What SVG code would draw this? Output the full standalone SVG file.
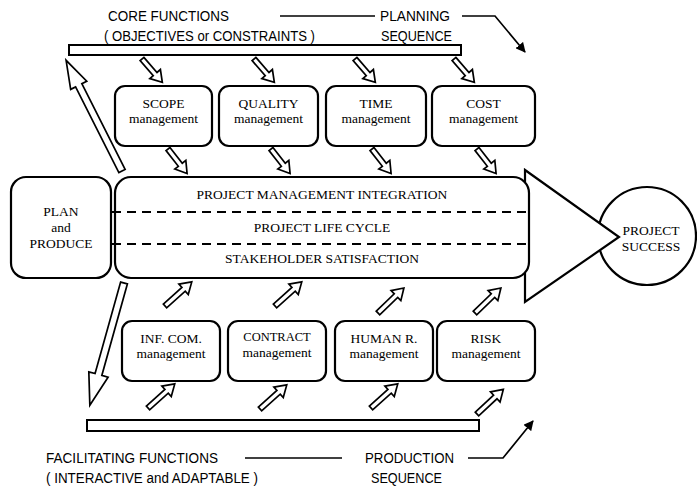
<svg xmlns="http://www.w3.org/2000/svg" width="697" height="488" viewBox="0 0 697 488">
<style>
.box{fill:#fff;stroke:#000;stroke-width:2.2}
.bar{fill:#fff;stroke:#000;stroke-width:2}
.ha{fill:#fff;stroke:#000;stroke-width:1.7;stroke-linejoin:miter}
.ln{fill:none;stroke:#000;stroke-width:1.7}
.dash{fill:none;stroke:#000;stroke-width:2;stroke-dasharray:9 6}
.s{font-family:"Liberation Sans",Arial,sans-serif;font-size:14px;fill:#000}
.t{font-family:"Liberation Serif","Times New Roman",serif;font-size:13.5px;fill:#000;text-anchor:middle}
</style>
<defs>
<path id="a31" d="M0,-2.5 H20 V-7 L31,0 L20,7 V2.5 H0 Z"/>
<path id="a36" d="M0,-2.5 H25 V-7 L36,0 L25,7 V2.5 H0 Z"/>
<marker id="ah" viewBox="0 0 10 10" refX="9" refY="5" markerWidth="10" markerHeight="10" markerUnits="userSpaceOnUse" orient="auto">
<path d="M0,0 L10,5 L0,10 Z" fill="#000"/>
</marker>
</defs>

<g id="labels">
<text class="s" x="108" y="21" textLength="121" lengthAdjust="spacingAndGlyphs">CORE  FUNCTIONS</text>
<text class="s" x="104" y="41" textLength="211" lengthAdjust="spacingAndGlyphs">( OBJECTIVES or CONSTRAINTS )</text>
<text class="s" x="380" y="21" textLength="70" lengthAdjust="spacingAndGlyphs">PLANNING</text>
<text class="s" x="381" y="41" textLength="71" lengthAdjust="spacingAndGlyphs">SEQUENCE</text>
<text class="s" x="46" y="463" textLength="172" lengthAdjust="spacingAndGlyphs">FACILITATING FUNCTIONS</text>
<text class="s" x="46" y="483" textLength="212" lengthAdjust="spacingAndGlyphs">( INTERACTIVE and ADAPTABLE )</text>
<text class="s" x="365" y="463" textLength="89" lengthAdjust="spacingAndGlyphs">PRODUCTION</text>
<text class="s" x="371" y="483" textLength="71" lengthAdjust="spacingAndGlyphs">SEQUENCE</text>
</g>

<g id="connectors">
<line class="ln" x1="280" y1="16" x2="375" y2="16"/>
<polyline class="ln" points="462,16 495,16 525,52" marker-end="url(#ah)"/>
<line class="ln" x1="245" y1="458" x2="342" y2="458"/>
<polyline class="ln" points="468,458 503,458 533,421" marker-end="url(#ah)"/>

<use href="#a31" class="ha" transform="translate(142,59) rotate(49)"/>
<use href="#a31" class="ha" transform="translate(254,59) rotate(49)"/>
<use href="#a31" class="ha" transform="translate(355,59) rotate(49)"/>
<use href="#a31" class="ha" transform="translate(454,59) rotate(49)"/>

<use href="#a31" class="ha" transform="translate(168,149) rotate(52)"/>
<use href="#a31" class="ha" transform="translate(271,149) rotate(52)"/>
<use href="#a31" class="ha" transform="translate(372,149) rotate(52)"/>
<use href="#a31" class="ha" transform="translate(477,149) rotate(52)"/>

<use href="#a36" class="ha" transform="translate(148,408) rotate(-42)"/>
<use href="#a36" class="ha" transform="translate(260,409) rotate(-42)"/>
<use href="#a36" class="ha" transform="translate(371,408) rotate(-42)"/>
<use href="#a36" class="ha" transform="translate(477,414) rotate(-43)"/>

<use href="#a36" class="ha" transform="translate(165,306) rotate(-42)"/>
<use href="#a36" class="ha" transform="translate(275,306) rotate(-42)"/>
<use href="#a36" class="ha" transform="translate(378,313) rotate(-44)"/>
<use href="#a36" class="ha" transform="translate(475,313) rotate(-44)"/>

<path class="ha" d="M0,-3.5 H96 V-9 L124,0 L96,9 V3.5 H0 Z" transform="translate(122,171) rotate(-116.8)"/>
<path class="ha" d="M0,-3.5 H95 V-10 L127,0 L95,10 V3.5 H0 Z" transform="translate(124,283) rotate(105.6)"/>
</g>

<g id="core-bar"><rect class="bar" x="69" y="45" width="392" height="10"/></g>
<g id="facilitating-bar"><rect class="bar" x="87" y="420" width="392" height="11"/></g>

<g id="scope"><rect class="box" x="115" y="86" width="97" height="60" rx="10"/>
<text class="t" x="163.5" y="108">SCOPE</text><text class="t" x="163.5" y="123">management</text></g>
<g id="quality"><rect class="box" x="219" y="86" width="99" height="60" rx="10"/>
<text class="t" x="268.5" y="108">QUALITY</text><text class="t" x="268.5" y="123">management</text></g>
<g id="time"><rect class="box" x="326" y="86" width="100" height="60" rx="10"/>
<text class="t" x="376" y="108">TIME</text><text class="t" x="376" y="123">management</text></g>
<g id="cost"><rect class="box" x="432" y="86" width="103" height="60" rx="10"/>
<text class="t" x="483.5" y="108">COST</text><text class="t" x="483.5" y="123">management</text></g>

<g id="success"><circle class="box" cx="647" cy="236" r="49"/>
<text class="t" x="651" y="235">PROJECT</text><text class="t" x="651" y="251">SUCCESS</text></g>
<g id="triangle"><polygon class="box" points="525,170 619,237 525,302"/></g>

<g id="integration"><rect class="box" x="115" y="177" width="414" height="101" rx="16"/>
<line class="dash" x1="112" y1="212" x2="529" y2="212"/>
<line class="dash" x1="112" y1="244" x2="529" y2="244"/>
<text class="t" x="322" y="199">PROJECT MANAGEMENT INTEGRATION</text>
<text class="t" x="322" y="232">PROJECT LIFE CYCLE</text>
<text class="t" x="322" y="263">STAKEHOLDER SATISFACTION</text></g>

<g id="plan"><rect class="box" x="11" y="177" width="100" height="101" rx="15"/>
<text class="t" x="61" y="216">PLAN</text><text class="t" x="61" y="232">and</text><text class="t" x="61" y="248">PRODUCE</text></g>

<g id="infcom"><rect class="box" x="122" y="321" width="98" height="60" rx="10"/>
<text class="t" x="171" y="343">INF. COM.</text><text class="t" x="171" y="358">management</text></g>
<g id="contract"><rect class="box" x="228" y="321" width="98" height="60" rx="10"/>
<text class="t" x="277" y="341" style="font-size:12.5px">CONTRACT</text><text class="t" x="277" y="357">management</text></g>
<g id="human"><rect class="box" x="335" y="321" width="98" height="60" rx="10"/>
<text class="t" x="384" y="343">HUMAN R.</text><text class="t" x="384" y="358">management</text></g>
<g id="risk"><rect class="box" x="437" y="321" width="98" height="60" rx="10"/>
<text class="t" x="486" y="343">RISK</text><text class="t" x="486" y="358">management</text></g>
</svg>
